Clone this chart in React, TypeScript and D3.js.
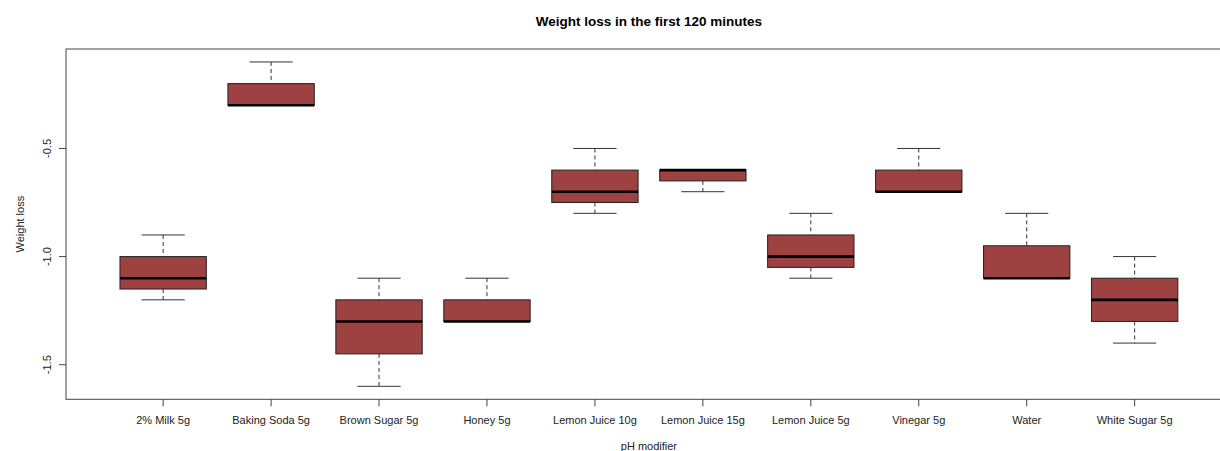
import React from "react";
import * as d3 from "d3";

// pH modifier groups and their box statistics (weight loss after 120 minutes)
const categories = [
  "2% Milk 5g",
  "Baking Soda 5g",
  "Brown Sugar 5g",
  "Honey 5g",
  "Lemon Juice 10g",
  "Lemon Juice 15g",
  "Lemon Juice 5g",
  "Vinegar 5g",
  "Water",
  "White Sugar 5g",
];
const whiskerLow = [-1.2, -0.3, -1.6, -1.3, -0.8, -0.7, -1.1, -0.7, -1.1, -1.4];
const boxLow = [-1.15, -0.3, -1.45, -1.3, -0.75, -0.65, -1.05, -0.7, -1.1, -1.3];
const medians = [-1.1, -0.3, -1.3, -1.3, -0.7, -0.6, -1.0, -0.7, -1.1, -1.2];
const boxHigh = [-1.0, -0.2, -1.2, -1.2, -0.6, -0.6, -0.9, -0.6, -0.95, -1.1];
const whiskerHigh = [-0.9, -0.1, -1.1, -1.1, -0.5, -0.6, -0.8, -0.5, -0.8, -1.0];
const yTicks = [-1.5, -1.0, -0.5];
const yTickLabels = ["-1.5", "-1.0", "-0.5"];

const W = 1220;
const H = 451;
const FONT = "'Liberation Sans', Arial, Helvetica, sans-serif";
const FILL = "#9e4141";

export default function App() {
  const n = categories.length;
  const x = d3.scaleLinear().domain([0.1, n + 0.9]).range([66, 1231.8]);
  const y = d3.scaleLinear().domain([-1.66, -0.04]).range([399.3, 49]);
  const unit = x(2) - x(1);
  const boxW = unit * 0.8;
  const capW = boxW * 0.5;
  const left = x.range()[0];
  const right = x.range()[1];
  const top = y.range()[1];
  const bottom = y.range()[0];

  return (
    <div style={{ position: "absolute", left: 0, top: 0 }}>
      <svg width={W} height={H} style={{ display: "block", background: "#fff" }}>
        {/* title */}
        <text
          x={(left + right) / 2}
          y={25.7}
          textAnchor="middle"
          fontFamily={FONT}
          fontSize={13.5}
          fontWeight="bold"
          fill="#000"
        >
          Weight loss in the first 120 minutes
        </text>

        {/* boxes */}
        {categories.map((c, i) => {
          const cx = x(i + 1);
          const stroke = "#222";
          return (
            <g key={c}>
              <line x1={cx} x2={cx} y1={y(whiskerHigh[i])} y2={y(boxHigh[i])} stroke="#333" strokeDasharray="4,3" />
              <line x1={cx} x2={cx} y1={y(boxLow[i])} y2={y(whiskerLow[i])} stroke="#333" strokeDasharray="4,3" />
              <line x1={cx - capW / 2} x2={cx + capW / 2} y1={y(whiskerHigh[i])} y2={y(whiskerHigh[i])} stroke="#333" />
              <line x1={cx - capW / 2} x2={cx + capW / 2} y1={y(whiskerLow[i])} y2={y(whiskerLow[i])} stroke="#333" />
              <rect
                x={cx - boxW / 2}
                y={y(boxHigh[i])}
                width={boxW}
                height={y(boxLow[i]) - y(boxHigh[i])}
                fill={FILL}
                stroke={stroke}
                strokeWidth={1}
              />
              <line
                x1={cx - boxW / 2}
                x2={cx + boxW / 2}
                y1={y(medians[i])}
                y2={y(medians[i])}
                stroke="#000"
                strokeWidth={2.6}
              />
            </g>
          );
        })}

        {/* frame */}
        <rect x={left} y={top} width={right - left} height={bottom - top} fill="none" stroke="#444" strokeWidth={1} />

        {/* y axis */}
        {yTicks.map((t, i) => (
          <g key={t}>
            <line x1={left - 7} x2={left} y1={y(t)} y2={y(t)} stroke="#444" />
            <text
              transform={`translate(51,${y(t)}) rotate(-90)`}
              textAnchor="middle"
              fontFamily={FONT}
              fontSize={11}
              fill="#222"
            >
              {yTickLabels[i]}
            </text>
          </g>
        ))}
        <text
          transform={`translate(23.5,${(top + bottom) / 2}) rotate(-90)`}
          textAnchor="middle"
          fontFamily={FONT}
          fontSize={11}
          fill="#222"
        >
          Weight loss
        </text>

        {/* x axis */}
        {categories.map((c, i) => (
          <g key={c}>
            <line x1={x(i + 1)} x2={x(i + 1)} y1={bottom} y2={bottom + 7} stroke="#444" />
            <text x={x(i + 1)} y={423.5} textAnchor="middle" fontFamily={FONT} fontSize={11} fill="#222">
              {c}
            </text>
          </g>
        ))}
        <text x={(left + right) / 2} y={450} textAnchor="middle" fontFamily={FONT} fontSize={11} fill="#222">
          pH modifier
        </text>
      </svg>
    </div>
  );
}
